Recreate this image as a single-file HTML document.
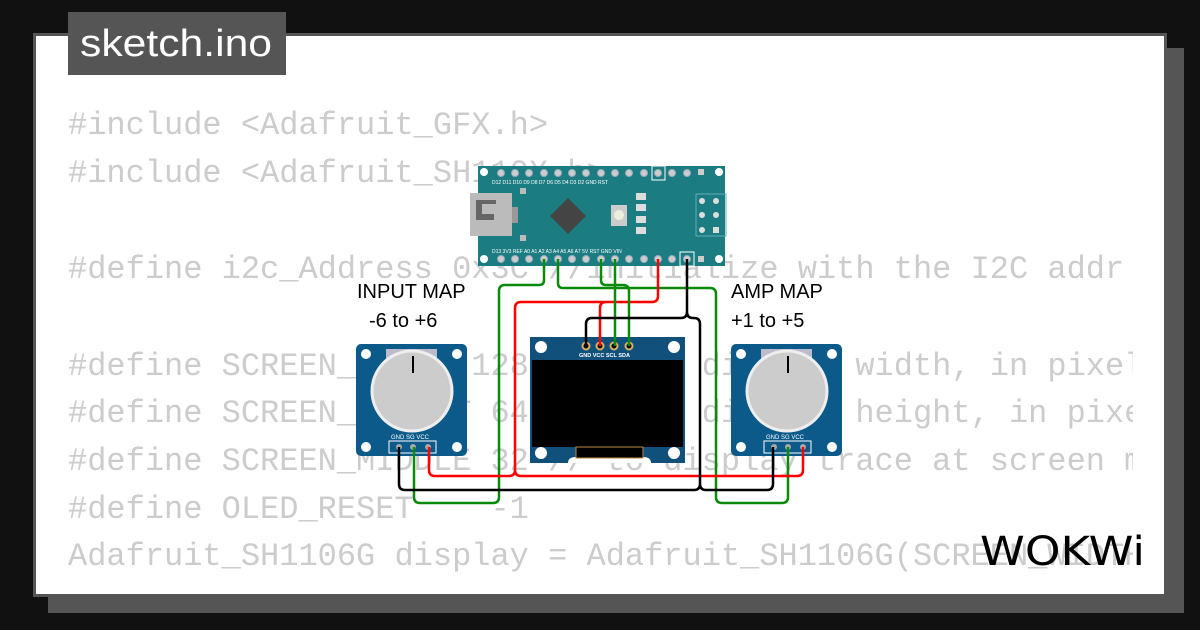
<!DOCTYPE html>
<html><head><meta charset="utf-8"><style>
html,body{margin:0;padding:0;background:#111;}
svg{display:block}
</style></head><body>
<svg width="1200" height="630" viewBox="0 0 1200 630" xmlns="http://www.w3.org/2000/svg">
<rect width="1200" height="630" fill="#111"/>
<rect x="48" y="48" width="1136" height="565" fill="#555"/>
<rect x="33" y="33" width="1134" height="564" fill="#555"/>
<rect x="36" y="36" width="1128" height="558" fill="#fff"/>
<rect x="68" y="12" width="218" height="63" fill="#555"/>
<text x="80" y="56" font-family="Liberation Sans, sans-serif" font-size="38" fill="#fff" textLength="192" lengthAdjust="spacingAndGlyphs">sketch.ino</text>
<clipPath id="cc"><rect x="60" y="90" width="1073" height="490"/></clipPath>
<g clip-path="url(#cc)" font-family="Liberation Mono, monospace" font-size="32" fill="#ccc">
<text x="68" y="134">#include &lt;Adafruit_GFX.h&gt;</text>
<text x="68" y="182">#include &lt;Adafruit_SH110X.h&gt;</text>
<text x="68" y="278">#define i2c_Address 0x3C //initialize with the I2C addr</text>
<text x="68" y="375">#define SCREEN_WIDTH 128 // OLED display width, in pixels</text>
<text x="68" y="422">#define SCREEN_HEIGHT 64 // OLED display height, in pixels</text>
<text x="68" y="470">#define SCREEN_MIDDLE 32 // to display trace at screen middle</text>
<text x="68" y="518">#define OLED_RESET&#160;&#160;&#160;&#160;-1</text>
<text x="68" y="565">Adafruit_SH1106G display = Adafruit_SH1106G(SCREEN_WIDTH, SCREEN_HEIGHT)</text>
</g>

<!-- Arduino Nano -->
<rect x="478" y="166" width="247" height="100" fill="#1b7d82"/>
<g fill="#fff"><circle cx="484" cy="172" r="4"/><circle cx="719" cy="172" r="4"/><circle cx="484" cy="259" r="4"/><circle cx="719" cy="259" r="4"/></g>
<g fill="#ccc" stroke="#9ab" stroke-width="1">
<circle cx="501" cy="173" r="3.5"/><circle cx="515" cy="173" r="3.5"/><circle cx="529" cy="173" r="3.5"/><circle cx="544" cy="173" r="3.5"/><circle cx="558" cy="173" r="3.5"/><circle cx="572" cy="173" r="3.5"/><circle cx="586" cy="173" r="3.5"/><circle cx="601" cy="173" r="3.5"/><circle cx="615" cy="173" r="3.5"/><circle cx="629" cy="173" r="3.5"/><circle cx="644" cy="173" r="3.5"/><circle cx="658" cy="173" r="3.5"/><circle cx="672" cy="173" r="3.5"/><circle cx="687" cy="173" r="3.5"/>
<circle cx="501" cy="259" r="3.5"/><circle cx="515" cy="259" r="3.5"/><circle cx="529" cy="259" r="3.5"/><circle cx="544" cy="259" r="3.5"/><circle cx="558" cy="259" r="3.5"/><circle cx="572" cy="259" r="3.5"/><circle cx="586" cy="259" r="3.5"/><circle cx="601" cy="259" r="3.5"/><circle cx="615" cy="259" r="3.5"/><circle cx="629" cy="259" r="3.5"/><circle cx="644" cy="259" r="3.5"/><circle cx="658" cy="259" r="3.5"/><circle cx="672" cy="259" r="3.5"/><circle cx="687" cy="259" r="3.5"/>
</g>
<rect x="652" y="166" width="13" height="14" fill="none" stroke="#fff" stroke-width="1"/>
<rect x="680" y="252" width="14" height="14" fill="none" stroke="#fff" stroke-width="1"/>
<rect x="698" y="169" width="6" height="6" fill="#ccc"/><rect x="698" y="256" width="6" height="6" fill="#ccc"/>
<g font-family="Liberation Sans, sans-serif" font-size="5" fill="#fff">
<text x="492" y="184">D12 D11 D10 D9  D8  D7  D6  D5  D4  D3  D2  GND RST</text>
<text x="492" y="253">D13 3V3 REF A0  A1  A2  A3  A4  A5  A6  A7  5V  RST GND VIN</text>
</g>
<rect x="470" y="193" width="42" height="43" fill="#bbb"/>
<path d="M476 200h20v4h-14v10h12v6h-18z" fill="#666"/>
<rect x="512" y="207" width="6" height="16" fill="#999"/>
<rect x="520" y="188" width="6" height="6" fill="#bbb"/><rect x="520" y="235" width="6" height="6" fill="#bbb"/>
<polygon points="568,198 586,216 568,234 550,216" fill="#444"/>
<rect x="611" y="205" width="16" height="21" fill="#ccc"/><circle cx="619" cy="215" r="5" fill="#eed"/>
<g fill="#ddd"><rect x="636" y="193" width="10" height="7"/><rect x="636" y="204" width="10" height="7"/><rect x="636" y="216" width="10" height="7"/><rect x="636" y="227" width="10" height="7"/></g>
<rect x="696" y="194" width="30" height="42" fill="none" stroke="#6ab" stroke-width="1"/>
<g fill="#ddd"><circle cx="702" cy="201" r="3"/><circle cx="716" cy="201" r="3"/><circle cx="702" cy="215" r="3"/><circle cx="716" cy="215" r="3"/><circle cx="702" cy="230" r="3"/><rect x="713" y="227" width="6" height="6"/></g>

<!-- OLED -->
<rect x="530" y="337" width="155" height="126" fill="#10507a"/>
<rect x="532" y="360" width="151" height="87" fill="#000"/>
<g fill="#fff"><circle cx="541" cy="347" r="6"/><circle cx="674" cy="347" r="6"/><circle cx="541" cy="453" r="6"/><circle cx="674" cy="453" r="6"/></g>
<path d="M568 463 q0-6 8-6 h67 q8 0 8 6z" fill="#fff"/>
<rect x="576" y="447" width="67" height="11" fill="#000" stroke="#b88a40" stroke-width="1"/>
<g fill="#000" stroke="#d9b060" stroke-width="2"><circle cx="586" cy="346" r="3.5"/><circle cx="600" cy="346" r="3.5"/><circle cx="614" cy="346" r="3.5"/><circle cx="629" cy="346" r="3.5"/></g>
<text x="579" y="357" font-family="Liberation Sans, sans-serif" font-size="5.5" font-weight="bold" fill="#fff">GND VCC SCL SDA</text>

<!-- Pots -->
<g id="pot">
<rect x="356" y="344" width="111" height="112" rx="5" fill="#0b5a8a"/>
<g fill="#fff"><circle cx="366" cy="354" r="5"/><circle cx="457" cy="354" r="5"/><circle cx="366" cy="447" r="5"/><circle cx="457" cy="447" r="5"/></g>
<rect x="386" y="349" width="51" height="14" fill="#bbc"/>
<circle cx="412" cy="391" r="40" fill="#ccc" stroke="#eee" stroke-width="3"/>
<line x1="413" y1="356" x2="413" y2="373" stroke="#000" stroke-width="2"/>
<rect x="389" y="441" width="47" height="12" fill="none" stroke="#fff" stroke-width="1"/>
<text x="391" y="439" font-family="Liberation Sans, sans-serif" font-size="6" fill="#fff">GND SG  VCC</text>
<g fill="#aaa"><circle cx="399" cy="447" r="3"/><circle cx="413" cy="447" r="3"/><circle cx="428" cy="447" r="3"/></g>
</g>
<use href="#pot" x="375"/>

<!-- Wires -->
<g fill="none" stroke-width="2.5" stroke-linejoin="round">
<path d="M544 259 V280 q0 5 -5 5 H505 q-6 0 -6 6 V497 q0 6 -6 6 H420 q-6 0 -6-6 V447" stroke="#0a8a0a"/>
<path d="M558 259 V283 q0 5 5 5 H710 q6 0 6 6 V497 q0 6 6 6 H782 q6 0 6-6 V447" stroke="#0a8a0a"/>
<path d="M658 259 V296 q0 6 -6 6 H521 q-6 0 -6 6 V470 q0 6 -6 6 H435 q-6 0 -6-6 V447 M515 470 q0 6 6 6 H797 q6 0 6-6 V447 M606 302 q-6 0 -6 6 V346" stroke="#f00"/>
<path d="M601 259 V280 q0 5 5 5 H623 q6 0 6 6 V346 M615 259 V346" stroke="#0a8a0a"/>
<path d="M687 259 V312 q0 6 -6 6 H592 q-6 0 -6 6 V346 M687 312 q0 6 6 6 H694 q6 0 6 6 V484 q0 6 -6 6 H405 q-6 0 -6-6 V447 M700 484 q0 6 6 6 H767 q6 0 6-6 V447" stroke="#000"/>
</g>

<g font-family="Liberation Sans, sans-serif" font-size="20" fill="#000">
<text x="357" y="298">INPUT MAP</text>
<text x="369" y="327">-6 to +6</text>
<text x="731" y="298">AMP MAP</text>
<text x="731" y="327">+1 to +5</text>
</g>
<text x="980" y="565" font-family="DejaVu Sans, sans-serif" font-size="40" fill="#000" textLength="165" lengthAdjust="spacingAndGlyphs">WOKWi</text>
</svg>
</body></html>
